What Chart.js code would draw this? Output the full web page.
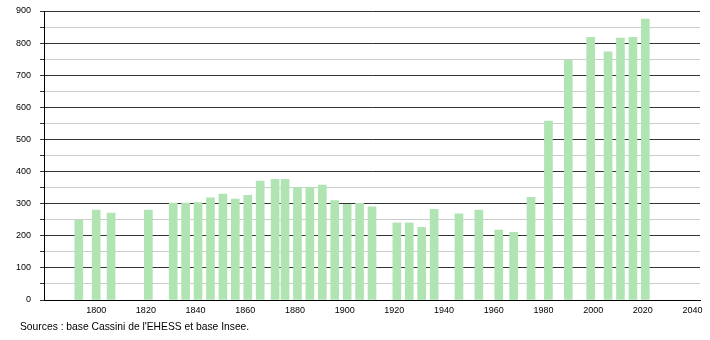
<!DOCTYPE html>
<html>
<head>
<meta charset="utf-8">
<script src="https://cdn.jsdelivr.net/npm/chart.js@4"></script>
<style>
  body { margin: 0; background: #fff; }
  #wrap { position: relative; width: 710px; height: 340px; }
  #source { position: absolute; left: 20px; top: 321px; font: 10.3px "Liberation Sans", Arial, sans-serif; color: #000; }
</style>
</head>
<body>
<div id="wrap">
  <canvas id="popChart" width="710" height="340"></canvas>
  <div id="source">Sources : base Cassini de l'EHESS et base Insee.</div>
</div>
<script>
// Census years and population
const years = [1793, 1800, 1806, 1821, 1831, 1836, 1841, 1846, 1851, 1856,
    1861, 1866, 1872, 1876, 1881, 1886, 1891, 1896, 1901, 1906,
    1911, 1921, 1926, 1931, 1936, 1946, 1954, 1962, 1968, 1975,
    1982, 1990, 1999, 2006, 2011, 2016, 2021];
const population = [249, 280, 271, 280, 302, 302, 303, 318, 330, 314,
    326, 370, 376, 376, 351, 351, 358, 310, 298, 301,
    290, 240, 240, 226, 282, 268, 280, 218, 211, 320,
    557, 747, 818, 773, 816, 818, 875];
const xTicks = [1800, 1820, 1840, 1860, 1880, 1900, 1920, 1940, 1960, 1980, 2000, 2020, 2040];

document.addEventListener('DOMContentLoaded', function() {
    const ctx = document.getElementById('popChart').getContext('2d');
    new Chart(ctx, {
        type: 'bar',
        data: {
            datasets: [{
                data: years.map((y, i) => ({ x: y, y: population[i] })),
                backgroundColor: 'rgb(176, 228, 178)',
                barThickness: 8
            }]
        },
        options: {
            responsive: false,
            animation: false,
            layout: { padding: { top: 0, right: 10, left: 0, bottom: 0 } },
            plugins: {
                legend: { display: false },
                tooltip: { enabled: false }
            },
            scales: {
                x: {
                    type: 'linear',
                    offset: false,
                    min: 1779,
                    max: 2043,
                    afterBuildTicks: function(scale) {
                        scale.ticks = xTicks.map(v => ({ value: v }));
                    },
                    afterFit: function(scale) { scale.height = 40; },
                    grid: { display: false, drawTicks: false },
                    border: { color: '#000', width: 1 },
                    ticks: {
                        color: '#000',
                        padding: 5,
                        maxRotation: 0,
                        font: { family: 'Liberation Sans', size: 9 },
                        callback: v => String(v)
                    }
                },
                y: {
                    min: 0,
                    max: 900,
                    afterFit: function(scale) {
                        scale.width = 44;
                        scale.paddingTop = 11;
                    },
                    grid: {
                        color: c => (c.tick.value % 100 === 0 ? '#333' : '#ccc'),
                        tickColor: '#333',
                        tickLength: 4
                    },
                    border: { color: '#000', width: 1 },
                    ticks: {
                        stepSize: 50,
                        color: '#000',
                        padding: 9,
                        font: { family: 'Liberation Sans', size: 9 },
                        callback: v => (v % 100 === 0 ? String(v) : '')
                    }
                }
            }
        }
    });
});
</script>
</body>
</html>
